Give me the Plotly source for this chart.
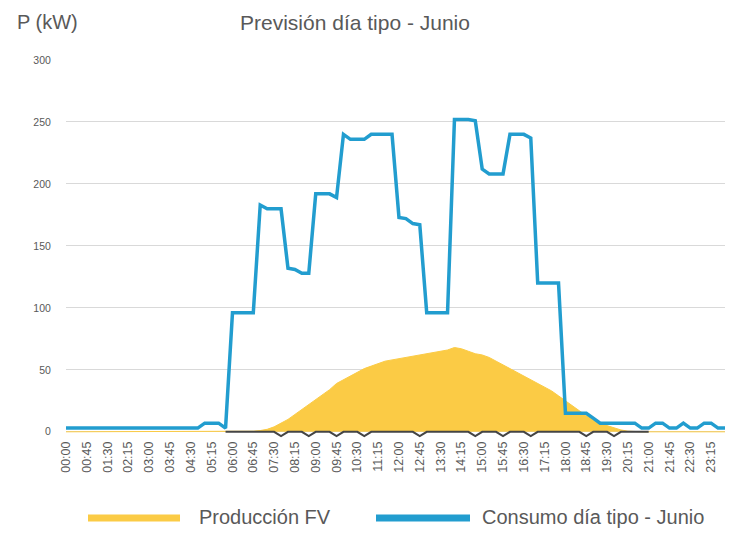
import plotly.graph_objects as go

# 15-minute time slots for a whole day (96 slots)
times = [f"{h:02d}:{m:02d}" for h in range(24) for m in (0, 15, 30, 45)]

# Typical-day consumption for June (kW)
consumo = [
    3, 3, 3, 3, 3, 3, 3, 3, 3, 3, 3, 3, 3, 3, 3, 3,
    3, 3, 3, 3, 7, 7, 7, 3, 96, 96, 96, 96, 183, 180, 180, 180,
    132, 131, 128, 128, 192, 192, 192, 189, 240, 236, 236, 236, 240, 240, 240, 240,
    173, 172, 168, 167, 96, 96, 96, 96, 252, 252, 252, 251, 212, 208, 208, 208,
    240, 240, 240, 237, 120, 120, 120, 120, 15, 15, 15, 15, 11, 7, 7, 7,
    7, 7, 7, 3, 3, 7, 7, 3, 3, 7, 3, 3, 7, 7, 3, 3,
]

# Photovoltaic production forecast (kW)
produccion = [
    0, 0, 0, 0, 0, 0, 0, 0, 0, 0, 0, 0, 0, 0, 0, 0,
    0, 0, 0, 0, 0, 0, 0, 0, 0, 0, 0, 0.5, 1, 2, 4, 7,
    10, 14, 18, 22, 26, 30, 34, 39, 42, 45, 48, 51, 53, 55, 57, 58,
    59, 60, 61, 62, 63, 64, 65, 66, 68, 67, 65, 63, 62, 60, 57, 54,
    51, 48, 45, 42, 39, 36, 33, 29, 25, 21, 17, 13, 10, 7, 5, 3,
    1.5, 0.5, 0, 0, 0, 0, 0, 0, 0, 0, 0, 0, 0, 0, 0, 0,
]

# Balance line around zero during daytime, with small dips
dip_slots = [31, 35, 39, 43, 51, 59, 63, 67, 75, 79]
balance = [(-3.5 if i in dip_slots else 0) if 23 <= i <= 84 else None
           for i in range(len(times))]

tick_labels = times[::3]

yellow = "#fbcb45"
blue = "#229dcf"
grey_text = "#595959"
font_family = "Liberation Sans, Arial, sans-serif"

fig = go.Figure()

fig.add_trace(go.Scatter(
    x=times, y=produccion, mode="lines", name="Producción FV",
    line=dict(color=yellow, width=1), fill="tozeroy", fillcolor=yellow,
    showlegend=False,
))
fig.add_trace(go.Scatter(
    x=times, y=balance, mode="lines",
    line=dict(color="#454545", width=2), showlegend=False,
))
fig.add_trace(go.Scatter(
    x=times, y=consumo, mode="lines", name="Consumo día tipo - Junio",
    line=dict(color=blue, width=3.5), showlegend=False,
))

fig.update_layout(
    width=732, height=540,
    margin=dict(l=66, r=7, t=60, b=102),
    paper_bgcolor="white", plot_bgcolor="white",
    font=dict(family=font_family, color=grey_text),
    xaxis=dict(
        type="category", range=[0, 95],
        tickmode="array", tickvals=tick_labels, ticktext=tick_labels,
        tickangle=-90, tickfont=dict(size=12.5, color=grey_text),
        showgrid=False, showline=False, zeroline=False,
    ),
    yaxis=dict(
        range=[-5, 300], tickvals=[0, 50, 100, 150, 200, 250, 300],
        tickfont=dict(size=10.5, color=grey_text),
        showgrid=True, gridcolor="#d9d9d9", gridwidth=1,
        zeroline=False, showline=False,
        ticks="outside", ticklen=12, tickcolor="rgba(0,0,0,0)",
    ),
)

# Convert pixel placements to paper coordinates for the annotations
plot_w = 732 - 66 - 7
plot_h = 540 - 60 - 102


def px_to_paper(px, py):
    return (px - 66) / plot_w, (540 - 102 - py) / plot_h


anns = []
xp, yp = px_to_paper(15, 22)
anns.append(dict(text="P (kW)", x=xp, y=yp, xref="paper", yref="paper",
                 xanchor="left", yanchor="middle", showarrow=False,
                 font=dict(size=20, color=grey_text, family=font_family)))
xp, yp = px_to_paper(355, 22)
anns.append(dict(text="Previsión día tipo - Junio", x=xp, y=yp, xref="paper", yref="paper",
                 xanchor="center", yanchor="middle", showarrow=False,
                 font=dict(size=21, color=grey_text, family=font_family)))

# Legend drawn as swatches plus labels below the axis
legend_items = [
    ("Producción FV", yellow, 88, 180, 197),
    ("Consumo día tipo - Junio", blue, 376, 470, 480),
]
shapes = []
for label, color, x0, x1, tx in legend_items:
    a0, b0 = px_to_paper(x0, 518)
    a1, _ = px_to_paper(x1, 518)
    shapes.append(dict(type="line", xref="paper", yref="paper",
                       x0=a0, x1=a1, y0=b0, y1=b0,
                       line=dict(color=color, width=7)))
    tx_p, ty_p = px_to_paper(tx, 517)
    anns.append(dict(text=label, x=tx_p, y=ty_p, xref="paper", yref="paper",
                     xanchor="left", yanchor="middle", showarrow=False,
                     font=dict(size=20, color=grey_text, family=font_family)))

fig.update_layout(annotations=anns, shapes=shapes)

fig.write_html("out.html")
